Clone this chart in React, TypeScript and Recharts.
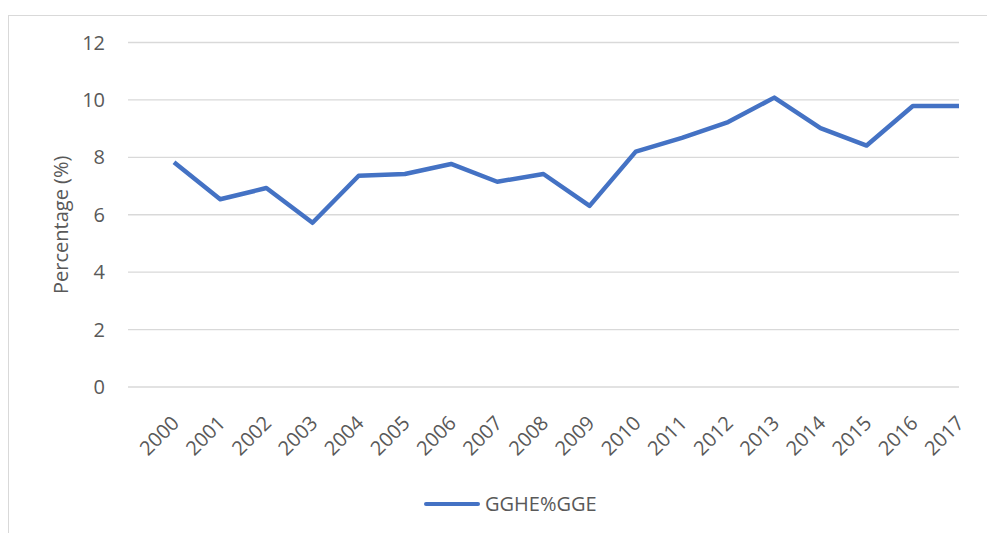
import { CartesianGrid, Label, Legend, Line, LineChart, XAxis, YAxis } from "recharts";

const years = [
  "2000", "2001", "2002", "2003", "2004", "2005", "2006", "2007", "2008",
  "2009", "2010", "2011", "2012", "2013", "2014", "2015", "2016", "2017",
];
const gghe = [
  7.83, 6.54, 6.93, 5.72, 7.36, 7.42, 7.77, 7.15, 7.42,
  6.31, 8.2, 8.68, 9.23, 10.08, 9.02, 8.41, 9.79, 9.79,
];
const yTicks = [0, 2, 4, 6, 8, 10, 12];

const FONT = "'Open Sans', sans-serif";
const GREY = "#595959";
const BLUE = "#4472C4";

const data = years.map((y, i) => ({ year: y, value: gghe[i] }));

// gedrehte Jahreszahlen, Textende mittig unter dem Punkt
function YearTick({ x, y, payload }: any) {
  return (
    <text
      x={x + 1}
      y={y + 32}
      transform={`rotate(-45, ${x + 1}, ${y + 32})`}
      textAnchor="end"
      dominantBaseline="central"
      fill={GREY}
      fontSize={20}
      fontFamily={FONT}
    >
      {payload.value}
    </text>
  );
}

function LegendBox() {
  return (
    <div style={{ height: 50, position: "relative", fontFamily: FONT }}>
      <div
        style={{
          position: "absolute",
          left: 415,
          top: 18,
          width: 56,
          height: 4,
          borderRadius: 2,
          background: BLUE,
        }}
      />
      <span
        style={{
          position: "absolute",
          left: 476,
          top: 6,
          fontSize: 20,
          color: GREY,
          lineHeight: "28px",
        }}
      >
        GGHE%GGE
      </span>
    </div>
  );
}

export default function App() {
  return (
    <div
      style={{
        marginTop: 7,
        width: 987,
        height: 518,
        borderTop: "1px solid #d9d9d9",
        borderLeft: "1px solid #d9d9d9",
        background: "#fff",
      }}
    >
      <LineChart
        width={987}
        height={518}
        data={data}
        margin={{ top: 26.5, right: 37, bottom: 0, left: 0 }}
      >
        <CartesianGrid vertical={false} stroke="#d9d9d9" strokeWidth={1.3} />
        <XAxis
          dataKey="year"
          type="category"
          scale="point"
          padding={{ left: 46, right: 0 }}
          axisLine={false}
          tickLine={false}
          tickSize={0}
          tickMargin={0}
          height={97}
          interval={0}
          tick={<YearTick />}
        />
        <YAxis
          domain={[0, 12]}
          ticks={yTicks}
          width={119}
          axisLine={false}
          tickLine={false}
          tickSize={0}
          tickMargin={23}
          tick={{ fill: GREY, fontSize: 20, fontFamily: FONT }}
        >
          <Label
            content={({ viewBox }: any) => (
              <text
                x={51}
                y={viewBox.y + viewBox.height / 2 + 10}
                transform={`rotate(-90, 51, ${viewBox.y + viewBox.height / 2 + 10})`}
                textAnchor="middle"
                dominantBaseline="central"
                fill={GREY}
                fontSize={20}
                fontFamily={FONT}
              >
                Percentage (%)
              </text>
            )}
          />
        </YAxis>
        <Legend verticalAlign="bottom" height={50} content={<LegendBox />} />
        <Line
          type="linear"
          dataKey="value"
          name="GGHE%GGE"
          stroke={BLUE}
          strokeWidth={4.5}
          strokeLinejoin="round"
          dot={false}
          activeDot={false}
          isAnimationActive={false}
        />
      </LineChart>
    </div>
  );
}
